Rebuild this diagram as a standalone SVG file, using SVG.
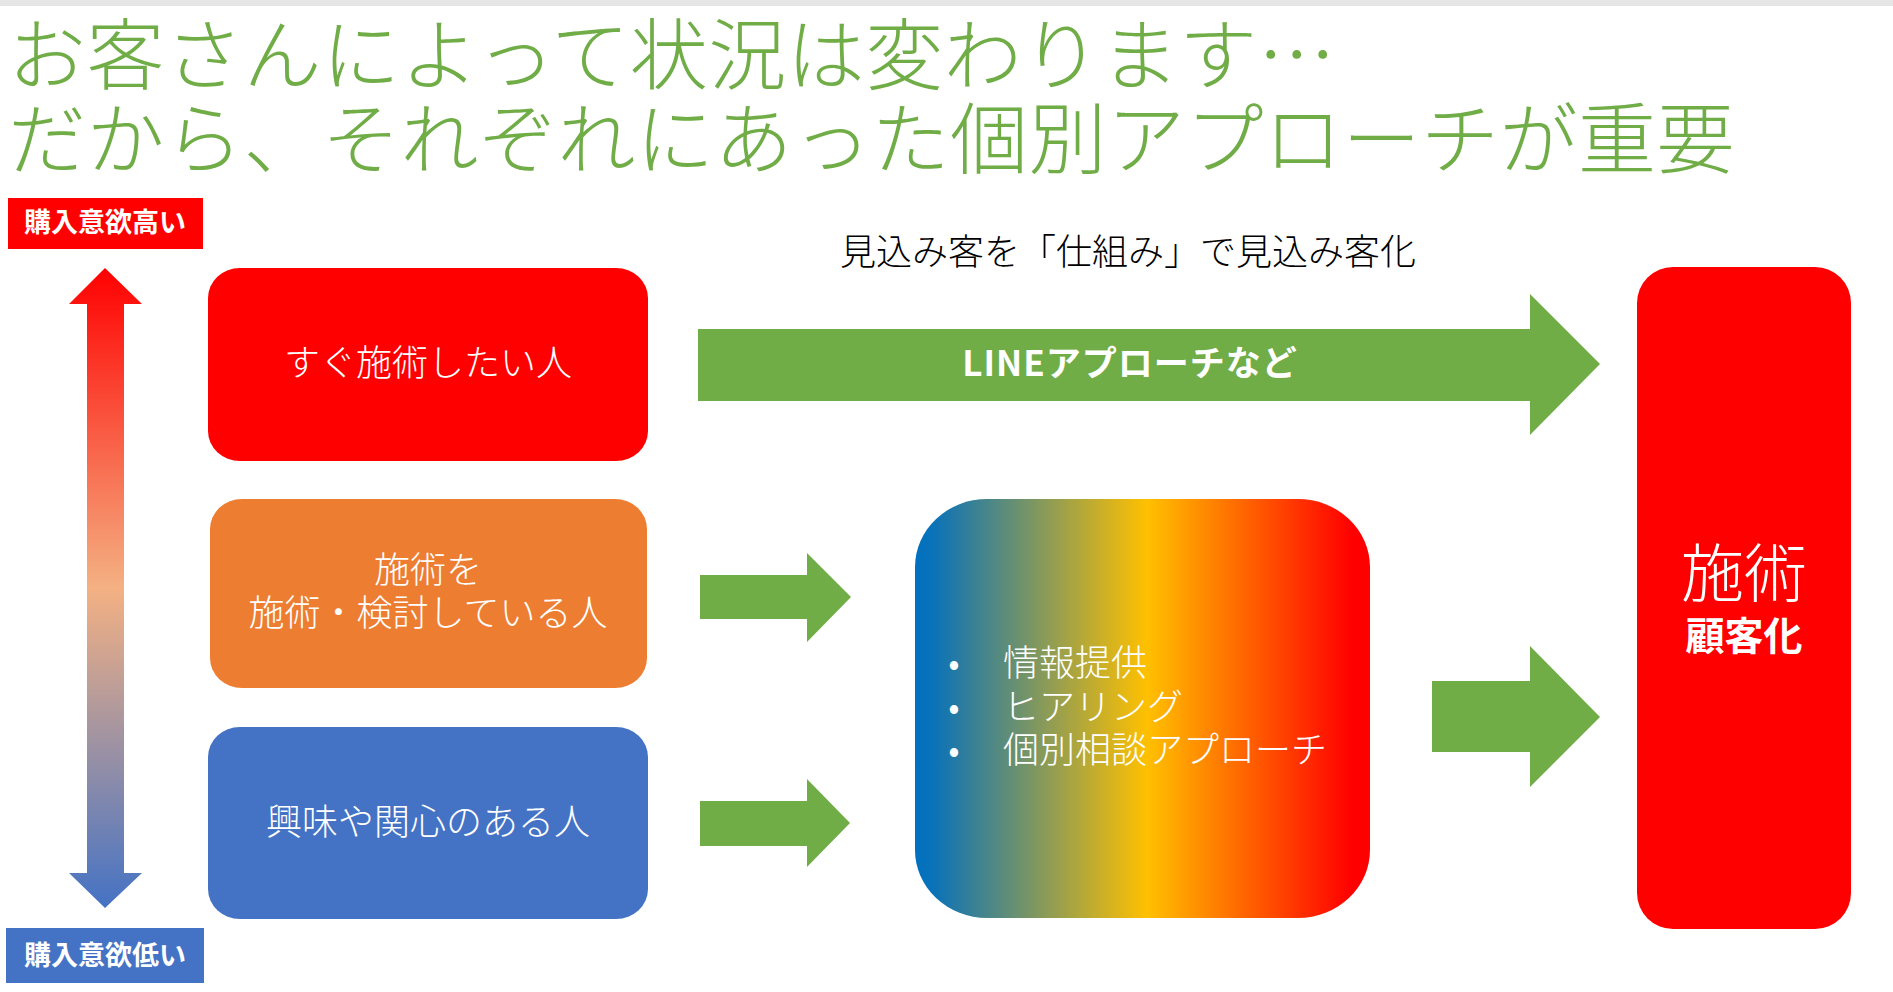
<svg xmlns="http://www.w3.org/2000/svg" width="1893" height="992" viewBox="0 0 1893 992">
<defs>
<style>
text{font-family:"Noto Sans CJK JP","Noto Sans",sans-serif;}
.title{font-size:78px;font-weight:300;fill:#70AD47;letter-spacing:0.5px;}
.lbl{font-size:27px;font-weight:700;fill:#fff;text-anchor:middle;}
.box{font-size:36px;font-weight:300;fill:#fff;text-anchor:middle;}
.cap{font-size:36px;font-weight:300;fill:#000;text-anchor:middle;}
.bl{font-size:36px;font-weight:300;fill:#fff;}
.green{fill:#70AD47;}
</style>
<linearGradient id="vgrad" gradientUnits="userSpaceOnUse" x1="0" y1="268" x2="0" y2="908">
<stop offset="0" stop-color="#FF0000"/>
<stop offset="0.5" stop-color="#F4B183"/>
<stop offset="1" stop-color="#4472C4"/>
</linearGradient>
<linearGradient id="hgrad" x1="0" y1="0" x2="1" y2="0">
<stop offset="0" stop-color="#0070C0"/>
<stop offset="0.04" stop-color="#0A72B8"/>
<stop offset="0.51" stop-color="#FFC000"/>
<stop offset="0.96" stop-color="#FF0000"/>
<stop offset="1" stop-color="#FF0000"/>
</linearGradient>
</defs>
<rect x="0" y="0" width="1893" height="992" fill="#fff"/>
<rect x="0" y="0" width="1893" height="6" fill="#E6E6E6"/>

<g id="title">
<text class="title" x="8" y="84">お客さんによって状況は変わります…</text>
<text class="title" x="8" y="168">だから、それぞれにあった個別アプローチが重要</text>
</g>

<g id="label-high">
<rect x="8" y="198" width="195" height="51" fill="#FF0000"/>
<text class="lbl" x="105" y="232">購入意欲高い</text>
</g>

<g id="label-low">
<rect x="6" y="928" width="198" height="55" fill="#4472C4"/>
<text class="lbl" x="105" y="965">購入意欲低い</text>
</g>

<g id="caption">
<text class="cap" x="1128" y="265">見込み客を「仕組み」で見込み客化</text>
</g>

<g id="node-now">
<rect x="208" y="268" width="440" height="193" rx="32" ry="30" fill="#FF0000"/>
<text class="box" x="428" y="376">すぐ施術したい人</text>
</g>

<g id="node-considering">
<rect x="210" y="499" width="437" height="189" rx="32" ry="30" fill="#ED7D31"/>
<text class="box" x="428" y="583">施術を</text>
<text class="box" x="428" y="626">施術・検討している人</text>
</g>

<g id="node-interested">
<rect x="208" y="727" width="440" height="192" rx="32" ry="30" fill="#4472C4"/>
<text class="box" x="428" y="835">興味や関心のある人</text>
</g>

<g id="node-process">
<rect x="915" y="499" width="455" height="419" rx="72" ry="68" fill="url(#hgrad)"/>
<text class="bl" x="954" y="676" text-anchor="middle">•</text>
<text class="bl" x="1003" y="676">情報提供</text>
<text class="bl" x="954" y="720" text-anchor="middle">•</text>
<text class="bl" x="1003" y="720">ヒアリング</text>
<text class="bl" x="954" y="763" text-anchor="middle">•</text>
<text class="bl" x="1003" y="763">個別相談アプローチ</text>
</g>

<g id="node-result">
<rect x="1637" y="267" width="214" height="662" rx="36" ry="36" fill="#FF0000"/>
<text x="1744" y="596" text-anchor="middle" font-size="63" font-weight="300" fill="#fff">施術</text>
<text x="1744" y="650" text-anchor="middle" font-size="39" font-weight="700" fill="#fff">顧客化</text>
</g>

<g id="connectors">
<polygon id="axis" points="105,268 142,304 124,304 124,873 142,873 105,908 69,873 87,873 87,304 69,304" fill="url(#vgrad)"/>
<polygon class="green" points="698,329 1530,329 1530,294 1600,364 1530,435 1530,401 698,401"/>
<text x="1130" y="376" text-anchor="middle" font-size="35" font-weight="700" letter-spacing="1" fill="#fff">LINEアプローチなど</text>
<polygon class="green" points="700,575 807,575 807,553 851,597 807,642 807,619 700,619"/>
<polygon class="green" points="700,801 807,801 807,779 850,823 807,867 807,846 700,846"/>
<polygon class="green" points="1432,681 1530,681 1530,646 1600,717 1530,787 1530,752 1432,752"/>
</g>
</svg>
